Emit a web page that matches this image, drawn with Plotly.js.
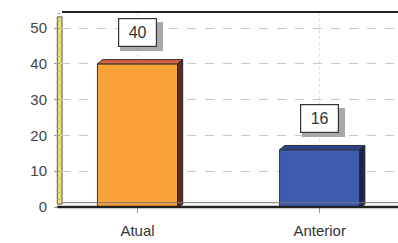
<!DOCTYPE html>
<html><head><meta charset="utf-8">
<script src="https://cdn.plot.ly/plotly-3.0.1.min.js"></script>
<style>html,body{margin:0;padding:0;background:#fff}#c{width:398px;height:243px}</style>
</head><body><div id="c"></div>
<script>
const categories = ["Atual", "Anterior"];
const values = [40, 16];
const frontColors = ["#F9A23A", "#3D5BB0"];
const topColors = ["#D5603C", "#2C4288"];
const sideColors = ["#5C2E22", "#1C2550"];
const yTicks = [0, 10, 20, 30, 40, 50];

const xs = categories.map((c, i) => i);
const halfW = 0.22, dx = 0.028, dy = 1.2;
const shapes = [];
xs.forEach((x, i) => {
  const v = values[i];
  shapes.push({type:'path', xref:'x', yref:'y',
    path:`M${x-halfW},${v} L${x+halfW},${v} L${x+halfW+dx},${v+dy} L${x-halfW+dx},${v+dy} Z`,
    fillcolor: topColors[i], line:{color:'#333', width:1}, layer:'above'});
  shapes.push({type:'path', xref:'x', yref:'y',
    path:`M${x+halfW},0 L${x+halfW+dx},${dy*0.6} L${x+halfW+dx},${v+dy} L${x+halfW},${v} Z`,
    fillcolor: sideColors[i], line:{color:'#222', width:1}, layer:'above'});
});
shapes.push({type:'rect', xref:'paper', yref:'paper', x0:-0.011, x1:0.003, y0:0.015, y1:0.975,
  fillcolor:'#EFE070', line:{color:'#555', width:1}, layer:'below'});
shapes.push({type:'line', xref:'paper', yref:'paper', x0:0.003, x1:1, y0:1, y1:1, line:{color:'#222', width:2}});
shapes.push({type:'line', xref:'paper', yref:'paper', x0:-0.011, x1:1, y0:0.0, y1:0.0, line:{color:'#222', width:2.5}});
shapes.push({type:'line', xref:'paper', yref:'paper', x0:0.003, x1:1, y0:0.022, y1:0.022, line:{color:'#777', width:1}});

const annotations = [];
const lblFont = 'Liberation Sans, Arial, sans-serif';
xs.forEach((x, i) => {
  annotations.push({x:x, y:values[i], xref:'x', yref:'y', text:'\u00a0\u00a0\u00a0\u00a0\u00a0\u00a0\u00a0', showarrow:false,
    xshift:4, yshift:27, bgcolor:'#a8a8a8', bordercolor:'#a8a8a8', borderwidth:1, borderpad:5,
    font:{family:lblFont, size:16, color:'#a8a8a8'}});
  annotations.push({x:x, y:values[i], xref:'x', yref:'y', text:'\u00a0' + String(values[i]) + '\u00a0', showarrow:false,
    yshift:31, bgcolor:'#ffffff', bordercolor:'#333', borderwidth:1.2, borderpad:5,
    font:{family:lblFont, size:16, color:'#333'}});
});

Plotly.newPlot('c', [{
  type:'bar', x:xs, y:values, width:halfW*2,
  marker:{color:frontColors, line:{color:'#333', width:1}},
  hoverinfo:'none'
}], {
  width:398, height:243,
  margin:{l:61, r:0, t:12, b:36},
  paper_bgcolor:'#fff', plot_bgcolor:'#fff',
  showlegend:false, bargap:0,
  xaxis:{range:[-0.42, 1.43], tickvals:xs, ticktext:categories, showgrid:true,
    gridcolor:'#e0e0e0', griddash:'dot', zeroline:false, showline:false,
    ticks:'outside', ticklen:5, tickcolor:'#999', ticklabelstandoff:5,
    tickfont:{family:lblFont, size:15, color:'#333'}},
  yaxis:{range:[0, 54.5], tickvals:yTicks, showgrid:true, gridcolor:'#c8c8c8', griddash:'dash',
    zeroline:false, showline:false, ticks:'outside', ticklen:6, tickcolor:'#999',
    ticklabelstandoff:4,
    minor:{dtick:2, ticks:'outside', ticklen:3, tickcolor:'#aaa', showgrid:false},
    tickfont:{family:lblFont, size:15, color:'#444'}},
  shapes:shapes, annotations:annotations
}, {displayModeBar:false, staticPlot:true});
</script></body></html>
